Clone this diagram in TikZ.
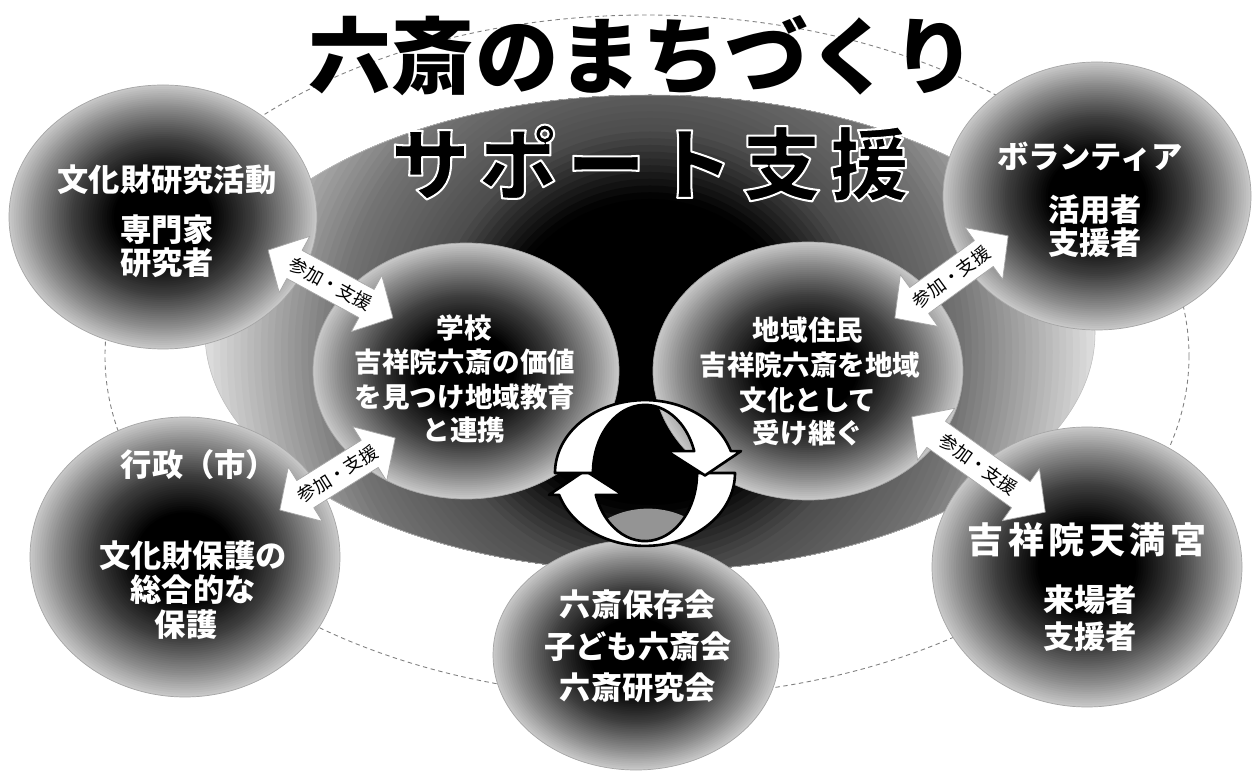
\documentclass[tikz,border=0pt]{standalone}
\usepackage{fontspec}
\newfontfamily\jp{Noto Sans CJK JP}
\usetikzlibrary{shapes.geometric}
\newcommand\supporttext{サ\kern5pt ポ\kern5pt ー\kern5pt ト\kern5pt 支\kern5pt 援}
\tikzset{
  ballrim/.style={ellipse, draw=black!35, line width=0.4pt, inner sep=0pt, outer sep=0pt},
  bigtxt/.style={font=\jp\bfseries\fontsize{17.8}{20}\selectfont, text=white, inner sep=0pt},
  midtxt/.style={font=\jp\bfseries\fontsize{15.7}{18}\selectfont, text=white, inner sep=0pt},
  suptxt/.style={font=\jp\bfseries\fontsize{45}{48}\selectfont, inner sep=0pt},
  titletxt/.style={font=\jp\bfseries\fontsize{47.5}{50}\selectfont, text=black, inner sep=0pt},
  arrtxt/.style={font=\jp\fontsize{10.3}{12}\selectfont, text=black, inner sep=0pt},
  arrowbody/.style={fill=white, draw=black!35, line width=0.4pt, line join=round},
  cyclearrow/.style={fill=white, draw=black, line width=1.5pt, line join=round},
  dashring/.style={draw=black!50, dash pattern=on 2.5pt off 2pt, line width=0.5pt}
}
% shaded ball: stacked ellipses, then a named rim node
\newcommand\ball[5]{%
  \foreach \i in {0,...,44}{%
    \pgfmathsetmacro\rr{1-\i*0.0155}%
    \pgfmathsetmacro\pp{\rr>0.84 ? 22+(1-\rr)*143.75 : (\rr>0.6 ? 45+(0.84-\rr)*125 : 75+(0.6-\rr)*89.3)}%
    \pgfmathsetmacro\pp{min(100,\pp)}%
    \fill[black!\pp] (#2,#3) ellipse[x radius=\rr*#4, y radius=\rr*#5];
  }
  \node[ballrim, minimum width={2*#4*0.02cm}, minimum height={2*#5*0.02cm}] (#1) at (#2,#3) {};
}
\newcommand\fatarr[4]{%
  \begin{scope}[shift={#2},rotate=#3]
    \path[arrowbody] (-#4,0) -- (-#4+30,-32) -- (-#4+30,-16) -- (#4-30,-16) -- (#4-30,-32) -- (#4,0)
      -- (#4-30,32) -- (#4-30,16) -- (-#4+30,16) -- (-#4+30,32) -- cycle;
  \end{scope}
  \node[arrtxt,rotate=#3] (#1) at #2 {参加・支援};
}
\begin{document}
\begin{tikzpicture}[x=0.02cm,y=-0.02cm]
\fill[white] (0,0) rectangle (1252,773);
\useasboundingbox (0,0) rectangle (1252,773);

% dashed outer ring
\draw[dashring] (647,356) ellipse[x radius=542, y radius=341];

% big dark ellipse (circular gradient clipped to the ellipse)
\begin{scope}
  \clip (650,333) ellipse[x radius=445, y radius=238];
  \foreach \i in {0,...,44}{%
    \pgfmathsetmacro\rr{1-\i*0.015}%
    \pgfmathsetmacro\pp{\rr>0.7 ? 12+(1-\rr)*143.3 : (\rr>0.5 ? 55+(0.7-\rr)*75 : 70+(0.5-\rr)*200)}%
    \pgfmathsetmacro\pp{min(100,\pp)}%
    \fill[black!\pp] (650,352) circle[radius=\rr*450];
  }
\end{scope}
\draw[black!25, line width=0.3pt] (650,333) ellipse[x radius=445, y radius=238];

% balls
\ball{c1}{163}{217}{154}{132}
\ball{c2}{1097}{196}{154}{134}
\ball{c3}{185}{557}{155}{140}
\ball{c4}{1087}{567}{155}{140}
\ball{c5}{636}{655}{143}{115}
\ball{school}{466}{371}{153}{128}
\ball{local}{808}{371}{155}{129}

% title
\node[titletxt] (title) at (642,56) {六斎のまちづくり};

% support text: black fill with white outline
\node[suptxt, text=black] (sup) at (650,163) {\special{pdf:literal direct 1 1 1 RG 1.15 w 1 j 2 Tr}\supporttext\special{pdf:literal direct 0 Tr}};

% texts
\node[bigtxt] (c1a) at (167,180) {文化財研究活動};
\node[bigtxt] (c1b) at (167,230) {専門家};
\node[bigtxt] (c1c) at (167,263) {研究者};

\node[bigtxt] (c2a) at (1090,157) {ボランティア};
\node[bigtxt] (c2b) at (1095,210) {活用者};
\node[bigtxt] (c2c) at (1095,243) {支援者};

\node[bigtxt] (c3a) at (199,465) {行政（市）};
\node[bigtxt] (c3b) at (193,556) {文化財保護の};
\node[bigtxt] (c3c) at (193,590) {総合的な};
\node[bigtxt] (c3d) at (186,625) {保護};

\node[bigtxt, font=\jp\bfseries\fontsize{20.5}{23}\selectfont] (c4a) at (1087,540) {吉\kern2.6pt 祥\kern2.6pt 院\kern2.6pt 天\kern2.6pt 満\kern2.6pt 宮};
\node[bigtxt] (c4b) at (1090,600) {来場者};
\node[bigtxt] (c4c) at (1090,637) {支援者};

\node[bigtxt] (c5a) at (638,605) {六斎保存会};
\node[bigtxt] (c5b) at (638,647) {子ども六斎会};
\node[bigtxt] (c5c) at (638,688) {六斎研究会};

\node[midtxt] (s1) at (464,328) {学校};
\node[midtxt] (s2) at (465,362) {吉祥院六斎の価値};
\node[midtxt] (s3) at (465,397) {を見つけ地域教育};
\node[midtxt] (s4) at (464,430) {と連携};

\node[midtxt] (l1) at (808,330) {地域住民};
\node[midtxt] (l2) at (810,365) {吉祥院六斎を地域};
\node[midtxt] (l3) at (808,400) {文化として};
\node[midtxt] (l4) at (808,433) {受け継ぐ};

% double arrows
\fatarr{a1}{(330.5,284)}{-28.5}{71}
\fatarr{a2}{(951.5,277)}{36}{70}
\fatarr{a3}{(337.5,474)}{32}{68}
\fatarr{a4}{(978.5,464.5)}{-35.5}{82}

% cycle arrows
\begin{scope}[shift={(645,473)}, yscale=-0.81]
  \begin{scope}
    \clip (0,0) ellipse[x radius=52, y radius=84];
    \fill[black!42] (3,-122) ellipse[x radius=75, y radius=78];
  \end{scope}
  \path[cyclearrow] (90,0) arc[start angle=0, end angle=-162.5, radius=90] -- (-96,-27) -- (-60,3) -- (-22,-27) -- (-49.2,-27)
     arc[start angle=198.7, end angle=360, x radius=52, y radius=84] -- cycle;
  \path[cyclearrow] (-90,0) arc[start angle=180, end angle=17.5, radius=90] -- (96,27) -- (60,-3) -- (22,27) -- (49.2,27)
     arc[start angle=18.7, end angle=180, x radius=52, y radius=84] -- cycle;
\end{scope}
\end{tikzpicture}
\end{document}
